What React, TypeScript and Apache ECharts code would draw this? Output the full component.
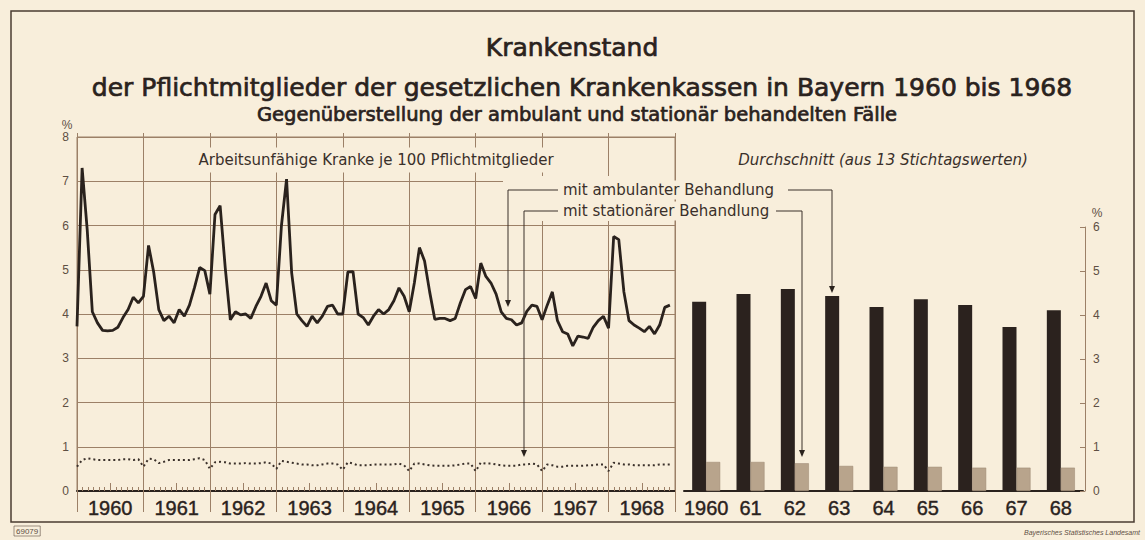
import React, { useEffect, useRef } from "react";
import * as echarts from "echarts";

// ---- data ----
const years = ["1960", "1961", "1962", "1963", "1964", "1965", "1966", "1967", "1968"];
const barLabels = ["1960", "61", "62", "63", "64", "65", "66", "67", "68"];

// 13 Stichtag values per year, Arbeitsunfähige je 100 Pflichtmitglieder, mit ambulanter Behandlung
const amb1960 = [3.72, 7.3, 5.9, 4.05, 3.8, 3.63, 3.62, 3.63, 3.7, 3.92, 4.1, 4.38, 4.25];
const amb1961 = [4.4, 5.55, 4.95, 4.1, 3.85, 3.95, 3.8, 4.1, 3.95, 4.2, 4.6, 5.05, 4.98];
const amb1962 = [4.45, 6.25, 6.45, 5.05, 3.87, 4.05, 3.98, 4.0, 3.9, 4.17, 4.4, 4.7, 4.3];
const amb1963 = [4.2, 6.0, 7.05, 4.93, 4.0, 3.85, 3.72, 3.95, 3.8, 3.95, 4.17, 4.2, 4.0];
const amb1964 = [4.0, 4.95, 4.96, 4.0, 3.92, 3.75, 3.95, 4.1, 4.0, 4.1, 4.3, 4.59, 4.4];
const amb1965 = [4.05, 4.7, 5.5, 5.2, 4.5, 3.88, 3.9, 3.9, 3.85, 3.9, 4.25, 4.55, 4.62];
const amb1966 = [4.35, 5.15, 4.85, 4.7, 4.45, 4.05, 3.9, 3.87, 3.75, 3.8, 4.06, 4.2, 4.17];
const amb1967 = [3.87, 4.2, 4.5, 3.85, 3.6, 3.55, 3.28, 3.5, 3.48, 3.45, 3.7, 3.85, 3.95];
const amb1968 = [3.68, 5.75, 5.68, 4.5, 3.85, 3.75, 3.68, 3.6, 3.72, 3.55, 3.75, 4.15, 4.2];

// mit stationärer Behandlung
const sta1960 = [0.55, 0.7, 0.74, 0.72, 0.7, 0.7, 0.7, 0.7, 0.7, 0.72, 0.72, 0.7, 0.72];
const sta1961 = [0.55, 0.73, 0.72, 0.63, 0.66, 0.7, 0.7, 0.7, 0.7, 0.7, 0.72, 0.74, 0.7];
const sta1962 = [0.5, 0.65, 0.66, 0.65, 0.62, 0.62, 0.62, 0.63, 0.62, 0.62, 0.63, 0.65, 0.62];
const sta1963 = [0.5, 0.68, 0.66, 0.64, 0.62, 0.6, 0.6, 0.58, 0.58, 0.6, 0.62, 0.62, 0.6];
const sta1964 = [0.48, 0.65, 0.62, 0.58, 0.58, 0.58, 0.6, 0.6, 0.6, 0.6, 0.6, 0.62, 0.58];
const sta1965 = [0.45, 0.62, 0.62, 0.6, 0.58, 0.57, 0.57, 0.57, 0.57, 0.58, 0.6, 0.62, 0.62];
const sta1966 = [0.45, 0.64, 0.62, 0.62, 0.6, 0.58, 0.57, 0.57, 0.57, 0.6, 0.6, 0.62, 0.6];
const sta1967 = [0.45, 0.6, 0.58, 0.55, 0.55, 0.57, 0.57, 0.57, 0.57, 0.58, 0.58, 0.6, 0.6];
const sta1968 = [0.45, 0.64, 0.62, 0.6, 0.6, 0.58, 0.58, 0.58, 0.58, 0.58, 0.6, 0.6, 0.6];

// Durchschnitt (aus 13 Stichtagswerten)
const avgAmbulant = [4.3, 4.48, 4.59, 4.43, 4.18, 4.36, 4.23, 3.73, 4.11];
const avgStationaer = [0.66, 0.66, 0.63, 0.57, 0.55, 0.55, 0.53, 0.53, 0.53];

const leftTicks = [0, 1, 2, 3, 4, 5, 6, 7, 8];
const rightTicks = [0, 1, 2, 3, 4, 5, 6];

const ambByYear = [amb1960, amb1961, amb1962, amb1963, amb1964, amb1965, amb1966, amb1967, amb1968];
const staByYear = [sta1960, sta1961, sta1962, sta1963, sta1964, sta1965, sta1966, sta1967, sta1968];

const toSeries = (byYear: number[][]) => {
  const out: [number, number][] = [];
  byYear.forEach((arr, y) => arr.forEach((v, i) => out.push([y + i / arr.length, v])));
  return out;
};

// ---- style ----
const PAPER = "#f8eedb";
const INK = "#2a221d";
const GRID = "#9c8067";
const SOFT = "#5e4f43";
const FONT = "'Liberation Sans', Arial, sans-serif";
const WIDE = "'DejaVu Sans', sans-serif";

export default function App() {
  const ref = useRef<HTMLDivElement>(null);

  useEffect(() => {
    if (!ref.current) return;
    const chart = echarts.init(ref.current, undefined, { renderer: "svg" });

    const arrowDown = (x: number, y: number) => ({
      type: "polygon",
      z: 6,
      shape: { points: [[x - 3, y - 7], [x + 3, y - 7], [x, y]] },
      style: { fill: INK },
    });
    const conn = (pts: number[][]) => ({
      type: "polyline",
      z: 6,
      shape: { points: pts },
      style: { stroke: "#3a302a", lineWidth: 1, fill: "none" },
    });
    const titleText = (text: string, x: number, y: number, size: number) => ({
      type: "text",
      z: 1,
      x,
      y,
      style: { text, font: `${size}px ${WIDE}`, fill: INK, stroke: INK, lineWidth: 0.7, textAlign: "center", textVerticalAlign: "middle" },
    });

    const option: any = {
      animation: false,
      backgroundColor: PAPER,
      textStyle: { fontFamily: FONT },
      grid: [
        { left: 77, top: 137, width: 598, height: 354, show: true, borderColor: GRID, borderWidth: 1, backgroundColor: "transparent" },
        { left: 684, top: 227, width: 399, height: 264 },
      ],
      xAxis: [
        {
          type: "category",
          gridIndex: 0,
          position: "bottom",
          data: years,
          boundaryGap: true,
          axisLine: { show: true, lineStyle: { color: INK, width: 2 } },
          axisTick: { show: true, inside: false, length: 21, lineStyle: { color: GRID, width: 1 } },
          axisLabel: { fontSize: 20, color: INK, margin: 7, fontFamily: FONT, textBorderColor: INK, textBorderWidth: 0.4 },
          splitLine: { show: true, lineStyle: { color: GRID, width: 1 } },
        },
        {
          type: "value",
          gridIndex: 0,
          position: "bottom",
          min: 0,
          max: 9,
          interval: 1,
          axisLine: { show: false },
          axisLabel: { show: false },
          axisTick: { show: false, inside: true },
          splitLine: { show: false },
          minorTick: { show: true, splitNumber: 12, length: 4, lineStyle: { color: GRID } },
        },
        {
          type: "value",
          gridIndex: 0,
          position: "bottom",
          min: 0,
          max: 9,
          interval: 0.5,
          axisLine: { show: false },
          axisLabel: { show: false },
          axisTick: { show: true, inside: true, length: 8, lineStyle: { color: GRID } },
          splitLine: { show: false },
        },
        {
          type: "category",
          gridIndex: 1,
          position: "bottom",
          data: barLabels,
          axisLine: { show: true, lineStyle: { color: INK, width: 2 } },
          axisTick: { show: false },
          axisLabel: { fontSize: 20, color: INK, margin: 7, fontFamily: FONT, interval: 0, textBorderColor: INK, textBorderWidth: 0.4 },
        },
        {
          type: "category",
          gridIndex: 0,
          position: "top",
          data: years,
          boundaryGap: true,
          axisLine: { show: false },
          axisTick: { show: true, inside: false, length: 4, lineStyle: { color: GRID } },
          axisLabel: { show: false },
          splitLine: { show: false },
        },
      ],
      yAxis: [
        {
          type: "value",
          gridIndex: 0,
          min: leftTicks[0],
          max: leftTicks[leftTicks.length - 1],
          interval: 1,
          axisLine: { show: true, lineStyle: { color: GRID } },
          axisTick: { show: false },
          axisLabel: { fontSize: 12, color: SOFT, margin: 8 },
          splitLine: { show: true, lineStyle: { color: GRID, width: 1 } },
        },
        {
          type: "value",
          gridIndex: 1,
          position: "right",
          offset: 2,
          min: rightTicks[0],
          max: rightTicks[rightTicks.length - 1],
          interval: 1,
          axisLine: { show: true, lineStyle: { color: GRID } },
          axisTick: { show: true, inside: true, length: 5, lineStyle: { color: GRID } },
          axisLabel: { fontSize: 12, color: SOFT, margin: 8 },
          splitLine: { show: false },
        },
      ],
      series: [
        {
          name: "mit stationärer Behandlung",
          type: "line",
          xAxisIndex: 1,
          yAxisIndex: 0,
          data: toSeries(staByYear),
          symbol: "none",
          z: 3,
          lineStyle: { color: "#3a302a", width: 2, type: [2, 3] },
        },
        {
          name: "mit ambulanter Behandlung",
          type: "line",
          xAxisIndex: 1,
          yAxisIndex: 0,
          data: toSeries(ambByYear),
          symbol: "none",
          z: 4,
          lineStyle: { color: INK, width: 2.8 },
        },
        {
          name: "Durchschnitt ambulant",
          type: "bar",
          xAxisIndex: 3,
          yAxisIndex: 1,
          data: avgAmbulant,
          barWidth: 14,
          barGap: "0%",
          itemStyle: { color: "#2b221e" },
        },
        {
          name: "Durchschnitt stationär",
          type: "bar",
          xAxisIndex: 3,
          yAxisIndex: 1,
          data: avgStationaer,
          barWidth: 14,
          barGap: "0%",
          itemStyle: { color: "#b8a48c", borderColor: "#9a8670", borderWidth: 0.5 },
        },
      ],
      graphic: [
        { type: "rect", z: 0, shape: { x: 11, y: 11, width: 1123, height: 511 }, style: { fill: "none", stroke: "#4a3c32", lineWidth: 1.5 } },
        titleText("Krankenstand", 572, 47, 25),
        titleText("der Pflichtmitglieder der gesetzlichen Krankenkassen in Bayern 1960 bis 1968", 582, 87, 25),
        titleText("Gegenüberstellung der ambulant und stationär behandelten Fälle", 577, 114, 19.5),
        { type: "text", z: 1, x: 67, y: 125, style: { text: "%", font: `12px ${FONT}`, fill: SOFT, textAlign: "center", textVerticalAlign: "middle" } },
        { type: "text", z: 1, x: 1097, y: 213, style: { text: "%", font: `12px ${FONT}`, fill: SOFT, textAlign: "center", textVerticalAlign: "middle" } },
        { type: "text", z: 1, x: 376, y: 160, style: { text: "Arbeitsunfähige Kranke je 100 Pflichtmitglieder", font: `15px ${WIDE}`, fill: "#3a302a", textAlign: "center", textVerticalAlign: "middle", backgroundColor: PAPER, padding: [5, 3] } },
        { type: "rect", z: 1, shape: { x: 503, y: 176, width: 171, height: 45 }, style: { fill: PAPER } },
        { type: "text", z: 2, x: 561, y: 190, style: { text: "mit ambulanter Behandlung", font: `15px ${WIDE}`, fill: "#3a302a", textAlign: "left", textVerticalAlign: "middle", backgroundColor: PAPER, padding: [2, 2] } },
        { type: "text", z: 2, x: 561, y: 211, style: { text: "mit stationärer Behandlung", font: `15px ${WIDE}`, fill: "#3a302a", textAlign: "left", textVerticalAlign: "middle", backgroundColor: PAPER, padding: [2, 2] } },
        conn([[558, 190], [508, 190], [508, 300]]),
        arrowDown(508, 307),
        conn([[788, 190], [832, 190], [832, 286]]),
        arrowDown(832, 293),
        conn([[558, 211], [524, 211], [524, 450]]),
        arrowDown(524, 457),
        conn([[776, 211], [802, 211], [802, 450]]),
        arrowDown(802, 457),
        { type: "text", z: 1, x: 883, y: 160, style: { text: "Durchschnitt (aus 13 Stichtagswerten)", font: `italic 15px ${WIDE}`, fill: "#3a302a", textAlign: "center", textVerticalAlign: "middle" } },
        { type: "text", z: 1, x: 14, y: 531, style: { text: "69079", font: `8px ${FONT}`, fill: SOFT, textAlign: "left", textVerticalAlign: "middle", borderColor: SOFT, borderWidth: 0.6, padding: [1, 2] } },
        { type: "text", z: 1, x: 1140, y: 532, style: { text: "Bayerisches Statistisches Landesamt", font: `italic 7px ${FONT}`, fill: SOFT, textAlign: "right", textVerticalAlign: "middle" } },
      ],
    };

    chart.setOption(option);
    return () => chart.dispose();
  }, []);

  return <div ref={ref} style={{ position: "fixed", left: 0, top: 0, width: 1145, height: 540 }} />;
}
